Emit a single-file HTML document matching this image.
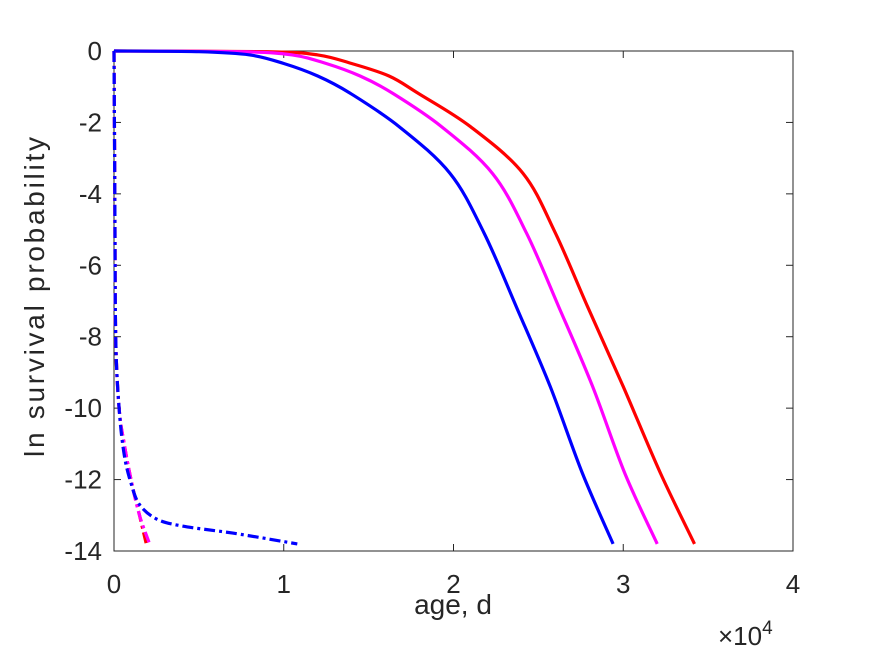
<!DOCTYPE html>
<html><head><meta charset="utf-8"><style>
body{margin:0;background:#fff}
text{font-family:"Liberation Sans",sans-serif;fill:#262626}
</style></head><body>
<svg width="875" height="656" xmlns="http://www.w3.org/2000/svg">
<rect width="875" height="656" fill="#fff"/>
<g id="plot"></g>
</svg>
<script>
const xTicks=[0,1,2,3,4];
const yTicks=[0,-2,-4,-6,-8,-10,-12,-14];
const blueT=[0,0.5,0.8,1.0,1.2,1.39,1.68,1.98,2.18,2.37,2.57,2.76,2.94];
const blueV=[0,-0.02,-0.11,-0.35,-0.7,-1.18,-2.12,-3.43,-5.1,-7.16,-9.4,-11.83,-13.8];
const magT=[0,0.75,1.05,1.25,1.45,1.64,1.93,2.23,2.43,2.62,2.82,3.01,3.2];
const magV=[0,-0.02,-0.11,-0.35,-0.7,-1.18,-2.12,-3.43,-5.1,-7.16,-9.4,-11.83,-13.8];
const redT=[0,0.9,1.2,1.4,1.62,1.79,2.1,2.41,2.6,2.79,3.0,3.22,3.42];
const redV=[0,-0.02,-0.11,-0.35,-0.7,-1.18,-2.12,-3.43,-5.1,-7.16,-9.4,-11.83,-13.8];
const blueDT=[0,0.005,0.01,0.03,0.06,0.1,0.15,0.25,0.4,0.7,1.08];
const blueDV=[0,-4,-8,-10,-11.3,-12.1,-12.7,-13.1,-13.3,-13.5,-13.8];
const redDT=[0,0.005,0.01,0.03,0.06,0.1,0.15,0.19];
const redDV=[0,-4,-8,-10,-11,-12,-13,-13.8];
const magDT=[0,0.005,0.01,0.03,0.06,0.1,0.15,0.21];
const magDV=[0,-4,-8,-10,-11,-12,-13,-13.8];

const L=114,R=793,T=51,B=551;
const xs=t=>L+(t-0)/(4-0)*(R-L);
const ys=v=>T+(0-v)/(14)*(B-T);
const g=document.getElementById('plot');
const NS='http://www.w3.org/2000/svg';
function mk(tag,attrs){const e=document.createElementNS(NS,tag);for(const k in attrs)e.setAttribute(k,attrs[k]);g.appendChild(e);return e;}
function smoothPath(pts){
  let d='M'+pts[0][0].toFixed(1)+','+pts[0][1].toFixed(1);
  for(let i=0;i<pts.length-1;i++){
    const p0=pts[i-1]||pts[i],p1=pts[i],p2=pts[i+1],p3=pts[i+2]||p2;
    const c1=[p1[0]+(p2[0]-p0[0])/6,p1[1]+(p2[1]-p0[1])/6];
    const c2=[p2[0]-(p3[0]-p1[0])/6,p2[1]-(p3[1]-p1[1])/6];
    d+=' C'+c1[0].toFixed(1)+','+c1[1].toFixed(1)+' '+c2[0].toFixed(1)+','+c2[1].toFixed(1)+' '+p2[0].toFixed(1)+','+p2[1].toFixed(1);
  }
  return d;
}
function line(ts,vs,color,dash,name){
  const pts=ts.map((t,i)=>[xs(t),ys(vs[i])]);
  const p=mk('path',{d:smoothPath(pts),fill:'none',stroke:color,'stroke-width':3.2,'stroke-linejoin':'round'});
  if(dash)p.setAttribute('stroke-dasharray','11,4,3,4');
  
  
}
const box=mk('rect',{x:L,y:T,width:R-L,height:B-T,fill:'none',stroke:'#262626','stroke-width':1});


xTicks.forEach(t=>{
  const x=xs(t);
  mk('line',{x1:x,y1:B,x2:x,y2:B-7,stroke:'#262626'});
  mk('line',{x1:x,y1:T,x2:x,y2:T+7,stroke:'#262626'});
  const tx=mk('text',{x:x,y:B+42,'text-anchor':'middle','font-size':26});
  tx.textContent=t;
  
  
});
yTicks.forEach(v=>{
  const y=ys(v);
  mk('line',{x1:L,y1:y,x2:L+7,y2:y,stroke:'#262626'});
  mk('line',{x1:R,y1:y,x2:R-7,y2:y,stroke:'#262626'});
  const tx=mk('text',{x:L-12,y:y+9,'text-anchor':'end','font-size':26});
  tx.textContent=v;
  
  
});
line(redT,redV,'#ff0000',false,'red-solid-line');
line(magT,magV,'#ff00ff',false,'magenta-solid-line');
line(blueT,blueV,'#0000ff',false,'blue-solid-line');
line(redDT,redDV,'#ff0000',true,'red-dashdot-line');
line(magDT,magDV,'#ff00ff',true,'magenta-dashdot-line');
line(blueDT,blueDV,'#0000ff',true,'blue-dashdot-line');
const xl=mk('text',{x:453,y:614,'text-anchor':'middle','font-size':28});
xl.textContent='age, d';


const ex=mk('text',{x:718,y:645,'font-size':26});
ex.innerHTML='×10<tspan dy="-11" font-size="19">4</tspan>';


const yl=mk('text',{x:0,y:0,'text-anchor':'middle','font-size':28,textLength:320,lengthAdjust:'spacing',transform:'translate(44,297) rotate(-90)'});
yl.textContent='ln survival probability';


</script>
</body></html>
